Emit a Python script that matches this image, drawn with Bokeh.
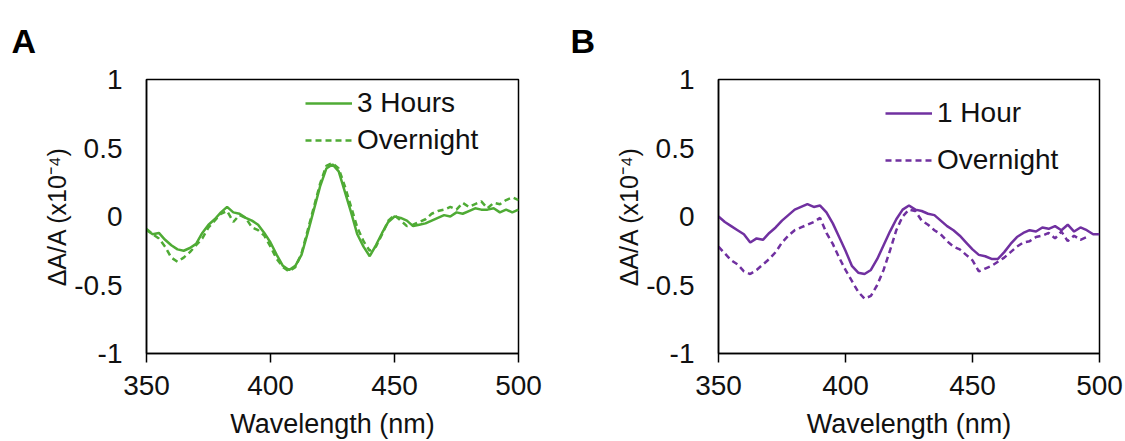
from bokeh.plotting import figure
from bokeh.layouts import row
from bokeh.models import Legend, LegendItem, Title, Range1d, FixedTicker
from bokeh.embed import file_html
from bokeh.resources import INLINE

# ---------------- data ----------------
wavelength = [350.0, 352.5, 355.0, 357.5, 360.0, 362.5, 365.0, 367.5, 370.0, 372.5,
              375.0, 377.5, 380.0, 382.5, 385.0, 387.5, 390.0, 392.5, 395.0, 397.5,
              400.0, 402.5, 405.0, 407.5, 410.0, 412.5, 415.0, 417.5, 420.0, 422.5,
              425.0, 427.5, 430.0, 432.5, 435.0, 437.5, 440.0, 442.5, 445.0, 447.5,
              450.0, 452.5, 455.0, 457.5, 460.0, 462.5, 465.0, 467.5, 470.0, 472.5,
              475.0, 477.5, 480.0, 482.5, 485.0, 487.5, 490.0, 492.5, 495.0, 497.5,
              500.0]

a_3hours = [-0.10, -0.13, -0.12, -0.17, -0.21, -0.24, -0.25, -0.23, -0.20, -0.12,
            -0.06, -0.02, 0.03, 0.07, 0.03, 0.02, -0.01, -0.03, -0.06, -0.12,
            -0.19, -0.28, -0.36, -0.39, -0.36, -0.28, -0.12, 0.05, 0.22, 0.35,
            0.38, 0.33, 0.18, 0.03, -0.13, -0.22, -0.29, -0.21, -0.12, -0.04,
            0.00, -0.01, -0.03, -0.07, -0.06, -0.05, -0.03, -0.01, 0.01, 0.00,
            0.03, 0.02, 0.04, 0.06, 0.05, 0.05, 0.06, 0.03, 0.05, 0.03,
            0.05]

a_overnight = [-0.09, -0.13, -0.16, -0.22, -0.30, -0.33, -0.30, -0.26, -0.21, -0.16,
               -0.08, -0.03, 0.02, 0.04, -0.04, 0.01, -0.01, -0.08, -0.10, -0.14,
               -0.22, -0.31, -0.37, -0.40, -0.37, -0.27, -0.10, 0.07, 0.24, 0.37,
               0.39, 0.35, 0.22, 0.07, -0.08, -0.18, -0.25, -0.22, -0.13, -0.03,
               0.01, -0.03, -0.07, -0.06, -0.04, -0.02, 0.02, 0.04, 0.05, 0.07,
               0.05, 0.10, 0.07, 0.09, 0.11, 0.06, 0.10, 0.09, 0.12, 0.14,
               0.12]

b_1hour = [0.00, -0.04, -0.07, -0.10, -0.13, -0.19, -0.16, -0.17, -0.12, -0.08,
           -0.03, 0.01, 0.05, 0.07, 0.09, 0.07, 0.08, 0.03, -0.05, -0.15,
           -0.25, -0.36, -0.41, -0.42, -0.39, -0.31, -0.21, -0.11, -0.02, 0.05,
           0.08, 0.05, 0.04, 0.02, 0.01, -0.03, -0.07, -0.10, -0.14, -0.19,
           -0.24, -0.28, -0.29, -0.31, -0.31, -0.26, -0.20, -0.15, -0.12, -0.10,
           -0.11, -0.08, -0.09, -0.07, -0.10, -0.06, -0.11, -0.08, -0.10, -0.13,
           -0.13]

b_wavelength_overnight = wavelength[:-2]
b_overnight = [-0.22, -0.27, -0.32, -0.35, -0.40, -0.42, -0.39, -0.35, -0.31, -0.26,
               -0.19, -0.14, -0.10, -0.08, -0.06, -0.04, -0.01, -0.12, -0.20, -0.30,
               -0.39, -0.47, -0.55, -0.60, -0.58, -0.50, -0.39, -0.25, -0.10, 0.00,
               0.05, 0.04, -0.03, -0.06, -0.10, -0.13, -0.18, -0.22, -0.24, -0.28,
               -0.32, -0.40, -0.38, -0.36, -0.33, -0.30, -0.26, -0.22, -0.19, -0.18,
               -0.15, -0.14, -0.12, -0.16, -0.11, -0.18, -0.14, -0.17, -0.15]

x_ticks = [350, 400, 450, 500]
y_ticks = [-1, -0.5, 0, 0.5, 1]
y_tick_labels = ["-1", "-0.5", "0", "0.5", "1"]

GREEN = "#4fab35"
PURPLE = "#7030a0"
FONT = "Liberation Sans"
TXT = "#111111"


def make_panel(width, left, right, letter, letter_offset, series, color, legend_xy, spacing):
    p = figure(width=width, height=441, output_backend="svg", toolbar_location=None,
               x_range=Range1d(350, 500), y_range=Range1d(-1, 1),
               min_border_left=left, min_border_right=right,
               min_border_top=79, min_border_bottom=88)
    p.background_fill_color = "white"
    p.border_fill_color = "white"
    p.outline_line_color = "black"
    p.outline_line_width = 1.5
    p.xgrid.visible = False
    p.ygrid.visible = False

    # x axis
    xa = p.xaxis[0]
    xa.ticker = FixedTicker(ticks=x_ticks)
    xa.minor_tick_line_color = None
    xa.major_tick_out = 9
    xa.major_tick_in = 0
    xa.major_tick_line_color = "black"
    xa.major_tick_line_width = 1.5
    xa.axis_line_color = "black"
    xa.axis_line_width = 1.5
    xa.major_label_text_font = FONT
    xa.major_label_text_font_size = "28px"
    xa.major_label_text_color = TXT
    xa.major_label_standoff = 13
    xa.axis_label = "Wavelength (nm)"
    xa.axis_label_text_font = FONT
    xa.axis_label_text_font_size = "27px"
    xa.axis_label_text_font_style = "normal"
    xa.axis_label_text_color = TXT
    xa.axis_label_standoff = 11

    # y axis
    ya = p.yaxis[0]
    ya.ticker = FixedTicker(ticks=y_ticks)
    ya.major_label_overrides = {t: s for t, s in zip(y_ticks, y_tick_labels)}
    ya.minor_tick_line_color = None
    ya.major_tick_out = 0
    ya.major_tick_in = 0
    ya.axis_line_color = "black"
    ya.axis_line_width = 1.5
    ya.major_label_text_font = FONT
    ya.major_label_text_font_size = "28px"
    ya.major_label_text_color = TXT
    ya.major_label_standoff = 24
    ya.axis_label = "ΔA/A (x10⁻⁴)"
    ya.axis_label_text_font = FONT
    ya.axis_label_text_font_size = "25px"
    ya.axis_label_text_font_style = "normal"
    ya.axis_label_text_color = TXT
    ya.axis_label_standoff = 0

    items = []
    for (xs, ys, name, dash) in series:
        r = p.line(xs, ys, line_color=color, line_width=2.5, line_dash=dash)
        items.append(LegendItem(label=name, renderers=[r]))

    legend = Legend(items=items, location=legend_xy, margin=0, padding=0,
                    background_fill_alpha=0, border_line_alpha=0,
                    glyph_width=47, glyph_height=32, label_height=32,
                    label_standoff=5, spacing=spacing,
                    label_text_font=FONT, label_text_font_size="28px",
                    label_text_color=TXT)
    p.add_layout(legend)

    p.add_layout(Title(text=letter, align="left", offset=letter_offset, standoff=39,
                       text_font=FONT, text_font_size="34px", text_font_style="bold",
                       text_color="black"), "above")
    return p


pA = make_panel(568, 146, 50, "A", -135,
                [(wavelength, a_3hours, "3 Hours", "solid"),
                 (wavelength, a_overnight, "Overnight", "6 4")],
                GREEN, (159, 197), 5)
pB = make_panel(557, 150, 26, "B", -148,
                [(wavelength, b_1hour, "1 Hour", "solid"),
                 (b_wavelength_overnight, b_overnight, "Overnight", "6 4")],
                PURPLE, (167, 177), 15)

layout = row(pA, pB)
open("out.html", "w").write(file_html(layout, INLINE))
